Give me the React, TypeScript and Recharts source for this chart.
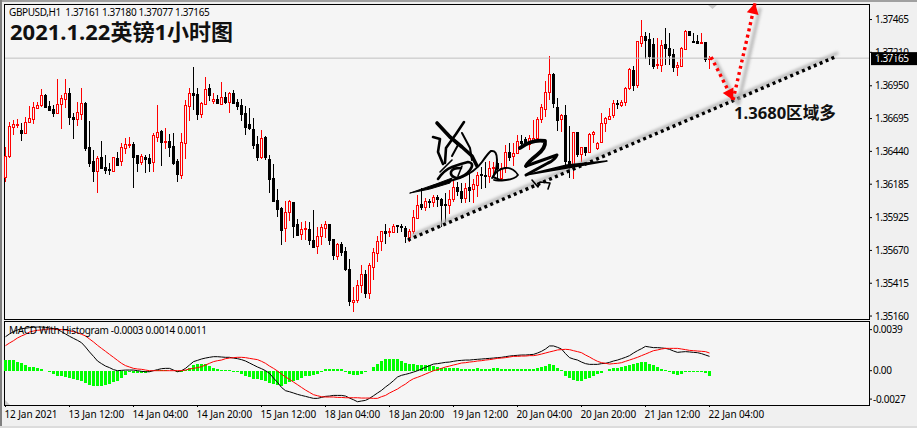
import { Bar, ComposedChart, Line, ReferenceLine, XAxis, YAxis } from "recharts"

const FONT = '"Noto Sans", "Noto Sans CJK SC", sans-serif'
const PLOT_BG = "#f5f5f5"

const opens = [
  1.36239, 1.36407, 1.36627, 1.36648, 1.36607, 1.36581, 1.36671, 1.36689, 1.3678, 1.36798,
  1.36879, 1.36793, 1.36767, 1.36739, 1.36811, 1.3685, 1.36892, 1.3671, 1.36695, 1.36734,
  1.36814, 1.36474, 1.36363, 1.3629, 1.36394, 1.36316, 1.36303, 1.3629, 1.36386, 1.36368,
  1.36464, 1.36487, 1.36498, 1.36412, 1.3636, 1.36399, 1.36389, 1.36355, 1.36555, 1.36599,
  1.36513, 1.36521, 1.36482, 1.36368, 1.36259, 1.36503, 1.36796, 1.36892, 1.36886, 1.36734,
  1.36811, 1.3693, 1.36835, 1.36847, 1.36811, 1.36863, 1.36827, 1.36894, 1.36822, 1.36801,
  1.36736, 1.36653, 1.36612, 1.36498, 1.36397, 1.3655, 1.36381, 1.36234, 1.36062, 1.35998,
  1.35842, 1.35972, 1.36047, 1.35873, 1.35795, 1.35834, 1.35836, 1.35751, 1.35707, 1.35782,
  1.35847, 1.35875, 1.35756, 1.35629, 1.35717, 1.35665, 1.35523, 1.35272, 1.35285, 1.35399,
  1.35487, 1.35336, 1.35544, 1.35653, 1.35741, 1.35818, 1.35811, 1.35811, 1.35865, 1.3586,
  1.35844, 1.35777, 1.35818, 1.35925, 1.36031, 1.36005, 1.36057, 1.36044, 1.36085, 1.3607,
  1.36031, 1.36026, 1.36067, 1.36166, 1.36134, 1.36077, 1.36166, 1.36145, 1.36178, 1.36261,
  1.3626, 1.36251, 1.36309, 1.36348, 1.36231, 1.36313, 1.36438, 1.36406, 1.36425, 1.36518,
  1.36539, 1.36498, 1.36529, 1.36542, 1.3669, 1.3677, 1.36904, 1.37042, 1.36783, 1.3669,
  1.36723, 1.36368, 1.36321, 1.36591, 1.3642, 1.36472, 1.36438, 1.36573, 1.36469, 1.36515,
  1.36658, 1.36692, 1.36723, 1.36814, 1.36801, 1.36826, 1.36935, 1.37073, 1.36959, 1.3728,
  1.37337, 1.37314, 1.37273, 1.37109, 1.37112, 1.37275, 1.37242, 1.37197, 1.37099, 1.37106,
  1.37236, 1.37376, 1.37296, 1.37301, 1.37285, 1.3729, 1.37161,
]

const closes = [
  1.36404, 1.36638, 1.36651, 1.36653, 1.36586, 1.36666, 1.36697, 1.36783, 1.36798, 1.36876,
  1.36788, 1.36765, 1.36741, 1.36806, 1.36853, 1.36892, 1.36705, 1.36695, 1.36744, 1.36814,
  1.36469, 1.36353, 1.36288, 1.36386, 1.36308, 1.36296, 1.36298, 1.36394, 1.36334, 1.36472,
  1.36495, 1.36495, 1.36399, 1.36353, 1.36404, 1.36381, 1.36353, 1.36568, 1.36591, 1.36516,
  1.36518, 1.36477, 1.36347, 1.36265, 1.36511, 1.36798, 1.36892, 1.36881, 1.36728, 1.36814,
  1.36923, 1.36881, 1.36845, 1.36814, 1.3686, 1.36824, 1.36892, 1.36816, 1.36796, 1.36734,
  1.36632, 1.36622, 1.3649, 1.36399, 1.36544, 1.36394, 1.36226, 1.36052, 1.35992, 1.35832,
  1.35967, 1.36052, 1.35863, 1.3579, 1.35834, 1.35842, 1.35751, 1.35694, 1.35782, 1.35849,
  1.35875, 1.35751, 1.35634, 1.35717, 1.3566, 1.35523, 1.35277, 1.35285, 1.35399, 1.35484,
  1.35336, 1.35557, 1.35655, 1.35743, 1.35818, 1.35808, 1.35821, 1.3586, 1.35857, 1.35849,
  1.35782, 1.35818, 1.35927, 1.3602, 1.36005, 1.36054, 1.36046, 1.36083, 1.3607, 1.36023,
  1.36026, 1.3607, 1.3616, 1.36134, 1.36077, 1.36153, 1.3614, 1.36186, 1.36256, 1.36253,
  1.36256, 1.36311, 1.36321, 1.36309, 1.36309, 1.36438, 1.36399, 1.36425, 1.36518, 1.36503,
  1.36513, 1.36542, 1.36542, 1.3669, 1.36783, 1.36899, 1.37042, 1.36819, 1.36684, 1.36723,
  1.36368, 1.36316, 1.36591, 1.3642, 1.36472, 1.36438, 1.36573, 1.36589, 1.36508, 1.36658,
  1.36697, 1.36718, 1.36814, 1.36806, 1.36826, 1.36933, 1.37078, 1.36956, 1.37298, 1.37337,
  1.37306, 1.37184, 1.37106, 1.37117, 1.37267, 1.37246, 1.37189, 1.37099, 1.37112, 1.37246,
  1.37376, 1.37345, 1.3729, 1.37283, 1.3729, 1.37158, 1.37165,
]

const highs = [
  1.36477, 1.36671, 1.36684, 1.36689, 1.36658, 1.3671, 1.36793, 1.36827, 1.36827, 1.36925,
  1.36884, 1.36829, 1.36801, 1.37, 1.36879, 1.37, 1.3693, 1.36736, 1.36827, 1.3693,
  1.36822, 1.36676, 1.36451, 1.36404, 1.36521, 1.36412, 1.36353, 1.36399, 1.36438, 1.36508,
  1.36542, 1.36552, 1.36516, 1.36412, 1.3642, 1.36412, 1.3642, 1.36581, 1.36801, 1.36607,
  1.36619, 1.36575, 1.36581, 1.36381, 1.36581, 1.3684, 1.3693, 1.37094, 1.36936, 1.36827,
  1.37016, 1.36964, 1.36892, 1.36879, 1.36977, 1.36904, 1.36904, 1.36917, 1.36845, 1.36845,
  1.36793, 1.36775, 1.36697, 1.3656, 1.36607, 1.3656, 1.36412, 1.36342, 1.3615, 1.36008,
  1.36055, 1.36062, 1.36047, 1.35915, 1.35888, 1.35901, 1.35893, 1.35984, 1.35849, 1.35875,
  1.35901, 1.35875, 1.35756, 1.3573, 1.35735, 1.35699, 1.35601, 1.35388, 1.3544, 1.35557,
  1.35518, 1.35575, 1.35686, 1.35782, 1.35818, 1.35875, 1.35847, 1.35875, 1.3587, 1.35873,
  1.3586, 1.35836, 1.35984, 1.36101, 1.36153, 1.36075, 1.36067, 1.36101, 1.36098, 1.3608,
  1.36119, 1.3614, 1.36217, 1.36199, 1.36191, 1.36191, 1.36264, 1.36223, 1.36282, 1.36321,
  1.36358, 1.36365, 1.3636, 1.3636, 1.36348, 1.3649, 1.36503, 1.36503, 1.36568, 1.36568,
  1.3655, 1.36568, 1.36684, 1.3671, 1.36809, 1.36987, 1.37182, 1.37047, 1.36853, 1.36731,
  1.36801, 1.36637, 1.36593, 1.36591, 1.36477, 1.36477, 1.36581, 1.36599, 1.36515, 1.36741,
  1.36705, 1.36775, 1.3684, 1.3684, 1.3684, 1.36938, 1.37086, 1.37104, 1.37301, 1.37462,
  1.37371, 1.37358, 1.37319, 1.37324, 1.37306, 1.37397, 1.37358, 1.37234, 1.37137, 1.37254,
  1.37384, 1.37378, 1.37358, 1.37345, 1.37358, 1.3729, 1.3718,
]

const lows = [
  1.36205, 1.36391, 1.36568, 1.36619, 1.36516, 1.36575, 1.36663, 1.36658, 1.36772, 1.36788,
  1.36785, 1.36749, 1.36705, 1.36731, 1.36617, 1.36775, 1.36645, 1.36534, 1.3664, 1.36684,
  1.36443, 1.36321, 1.36202, 1.36114, 1.36301, 1.36265, 1.36257, 1.3629, 1.36327, 1.36329,
  1.3642, 1.36464, 1.36158, 1.36277, 1.36334, 1.36275, 1.36283, 1.36275, 1.36516, 1.36329,
  1.36459, 1.36394, 1.36329, 1.36205, 1.36226, 1.36381, 1.36671, 1.36762, 1.36684, 1.36705,
  1.36801, 1.36832, 1.36809, 1.36806, 1.36801, 1.36814, 1.36741, 1.36809, 1.36762, 1.36671,
  1.36568, 1.36601, 1.36456, 1.36365, 1.36378, 1.36373, 1.36119, 1.36044, 1.35933, 1.35715,
  1.35739, 1.35902, 1.3577, 1.3579, 1.35751, 1.35751, 1.35712, 1.35686, 1.35642, 1.35712,
  1.35772, 1.35712, 1.3559, 1.35595, 1.35627, 1.3551, 1.35233, 1.35194, 1.35259, 1.35336,
  1.35298, 1.35292, 1.3544, 1.35583, 1.3566, 1.3572, 1.35777, 1.35803, 1.35808, 1.35811,
  1.35725, 1.35738, 1.35798, 1.35919, 1.35984, 1.35971, 1.35997, 1.36005, 1.36005, 1.35855,
  1.35893, 1.35953, 1.36049, 1.36088, 1.36036, 1.36036, 1.36049, 1.36036, 1.36088, 1.36153,
  1.36155, 1.36194, 1.36233, 1.36231, 1.36218, 1.3627, 1.3636, 1.36321, 1.3642, 1.36472,
  1.36477, 1.36451, 1.36503, 1.36529, 1.36661, 1.36707, 1.3684, 1.36775, 1.36593, 1.36593,
  1.36334, 1.36231, 1.36231, 1.36394, 1.3636, 1.36404, 1.36425, 1.36508, 1.36456, 1.36508,
  1.36585, 1.36679, 1.36697, 1.36767, 1.36787, 1.36787, 1.36917, 1.36912, 1.36935, 1.37254,
  1.37164, 1.37106, 1.37081, 1.37086, 1.37055, 1.37112, 1.37112, 1.37052, 1.37029, 1.37099,
  1.37236, 1.37345, 1.3728, 1.37275, 1.37273, 1.37137, 1.37077,
]

const macdLine = [
  0.00323, 0.00349, 0.00371, 0.00387, 0.00399, 0.00403, 0.00409, 0.00412, 0.00415, 0.00415,
  0.00412, 0.00406, 0.00399, 0.00393, 0.00371, 0.00349, 0.00327, 0.00307, 0.00288, 0.00266,
  0.00225, 0.00178, 0.00136, 0.00092, 0.00067, 0.00044, 0.00029, 0.0001, 0, 0.00003,
  0.00006, 0.00006, 0.00006, 0, -0.00006, -0.0001, -0.0001, 0, 0.0001, 0.00019,
  0.00022, 0.00022, 0.00006, -0.0001, 0, 0.00022, 0.00054, 0.00086, 0.00098, 0.00111,
  0.0012, 0.00127, 0.00133, 0.00133, 0.0013, 0.00127, 0.00127, 0.0012, 0.00114, 0.00105,
  0.00092, 0.00073, 0.00054, 0.00035, 0.00019, 0, -0.00025, -0.0007, -0.00111, -0.00159,
  -0.0019, -0.002, -0.00212, -0.00225, -0.00235, -0.00244, -0.00254, -0.00263, -0.00263, -0.00254,
  -0.00244, -0.00241, -0.00235, -0.00235, -0.00235, -0.00241, -0.0026, -0.00276, -0.00295, -0.00288,
  -0.00282, -0.00263, -0.00238, -0.00212, -0.00187, -0.00155, -0.00127, -0.00095, -0.0006, -0.00044,
  -0.00035, -0.00025, -0.00013, 0, 0.00016, 0.00032, 0.00048, 0.00063, 0.00067, 0.00073,
  0.00079, 0.00082, 0.00089, 0.00095, 0.00098, 0.00101, 0.00101, 0.00105, 0.00108, 0.00111,
  0.00114, 0.00117, 0.0012, 0.00124, 0.00127, 0.00133, 0.00139, 0.00143, 0.00146, 0.00149,
  0.00149, 0.00152, 0.00155, 0.00168, 0.00184, 0.00206, 0.00235, 0.00235, 0.00222, 0.00206,
  0.00162, 0.00124, 0.00111, 0.00101, 0.00082, 0.00067, 0.0006, 0.0006, 0.0006, 0.00067,
  0.0007, 0.00079, 0.00092, 0.00101, 0.00114, 0.00127, 0.00143, 0.00168, 0.0019, 0.00209,
  0.00231, 0.00225, 0.00219, 0.00219, 0.00216, 0.00212, 0.00203, 0.00187, 0.00174, 0.00178,
  0.00181, 0.00178, 0.00174, 0.00171, 0.00162, 0.00149, 0.00136,
]

const signalLine = [
  0.00238, 0.00263, 0.00285, 0.00311, 0.0033, 0.00346, 0.00368, 0.00377, 0.00384, 0.00387,
  0.00393, 0.00396, 0.00396, 0.00393, 0.0039, 0.00387, 0.0038, 0.00371, 0.00361, 0.00346,
  0.0033, 0.00301, 0.00273, 0.00241, 0.00212, 0.00184, 0.00155, 0.00127, 0.00098, 0.0007,
  0.00048, 0.00035, 0.00022, 0.00016, 0.00013, 0.00006, 0, 0, 0, 0,
  0, 0, 0, 0, 0, 0.00006, 0.00016, 0.00022, 0.00029, 0.00038,
  0.00054, 0.0007, 0.00086, 0.00095, 0.00101, 0.00114, 0.0012, 0.00124, 0.00127, 0.00127,
  0.00124, 0.00117, 0.00111, 0.00105, 0.00089, 0.0007, 0.00044, 0.00022, -0.00003, -0.00032,
  -0.0006, -0.00082, -0.00108, -0.00133, -0.00159, -0.00184, -0.00206, -0.00228, -0.00238, -0.00247,
  -0.0025, -0.0025, -0.0025, -0.00254, -0.00254, -0.00257, -0.00257, -0.00257, -0.00257, -0.0026,
  -0.0026, -0.0026, -0.00263, -0.00263, -0.00247, -0.00235, -0.00212, -0.00193, -0.00174, -0.00149,
  -0.00127, -0.00098, -0.00076, -0.00063, -0.00048, -0.00032, -0.00016, 0, 0.0001, 0.00022,
  0.00035, 0.00044, 0.00054, 0.00063, 0.00073, 0.00076, 0.00082, 0.00086, 0.00092, 0.00095,
  0.00101, 0.00105, 0.00111, 0.00117, 0.0012, 0.00124, 0.0013, 0.00136, 0.00136, 0.00139,
  0.00139, 0.00143, 0.00143, 0.00149, 0.00158, 0.00168, 0.00178, 0.00187, 0.00197, 0.002,
  0.00203, 0.002, 0.0019, 0.00181, 0.00171, 0.00149, 0.0013, 0.00108, 0.00089, 0.00076,
  0.0007, 0.00063, 0.00067, 0.0007, 0.00076, 0.00089, 0.00101, 0.00114, 0.00127, 0.00143,
  0.00158, 0.00174, 0.0019, 0.00197, 0.00206, 0.00212, 0.00212, 0.00212, 0.00212, 0.00206,
  0.002, 0.00193, 0.0019, 0.00187, 0.00184, 0.00181, 0.00168,
]

const histogram = [
  0.00102, 0.00102, 0.00102, 0.00086, 0.0007, 0.00054, 0.00038, 0.00032, 0.00022, 0.00013,
  -0.00003, -0.00013, -0.00035, -0.00051, -0.00051, -0.00057, -0.00073, -0.00082, -0.00086, -0.00095,
  -0.00114, -0.00133, -0.00146, -0.00146, -0.00143, -0.00137, -0.00127, -0.00111, -0.00095, -0.00073,
  -0.00041, -0.00016, -0.00019, -0.00019, -0.00022, -0.00025, -0.00016, -0.00006, 0.00008, 0.00008,
  0.00006, -0.00006, -0.00006, -0.00016, -0.00016, 0.00008, 0.00029, 0.00054, 0.00063, 0.00063,
  0.0006, 0.00044, 0.00022, 0.00013, 0.00008, 0.00008, 0.00006, -0.0001, -0.00016, -0.00029,
  -0.00048, -0.00063, -0.00076, -0.00082, -0.00089, -0.00095, -0.00114, -0.00127, -0.00137, -0.00143,
  -0.0013, -0.00111, -0.00098, -0.00086, -0.0007, -0.00054, -0.00048, -0.00038, -0.00029, -0.00013,
  0.00013, 0.00016, 0.00016, 0.00016, 0.00013, -0.00008, -0.00032, -0.00044, -0.00041, -0.00032,
  -0.00016, -0.00006, 0.00035, 0.0006, 0.00092, 0.00108, 0.00114, 0.00114, 0.00111, 0.00095,
  0.00076, 0.00063, 0.0006, 0.00054, 0.00054, 0.00054, 0.00054, 0.00041, 0.00032, 0.00029,
  0.00029, 0.00022, 0.00022, 0.00022, 0.0002, 0.0002, 0.0002, 0.0002, 0.00022, 0.0002,
  0.0002, 0.0002, 0.00022, 0.00022, 0.0002, 0.0002, 0.0002, 0.0002, 0.0002, 0.0002,
  0.0002, 0.0002, 0.0002, 0.00022, 0.00035, 0.00048, 0.00063, 0.00054, 0.00029, 0.0001,
  -0.00051, -0.00073, -0.00086, -0.00095, -0.00095, -0.00082, -0.00067, -0.00051, -0.00035, -0.00022,
  -0.00006, 0.00013, 0.00022, 0.00029, 0.00038, 0.00048, 0.00057, 0.00063, 0.00076, 0.00082,
  0.00079, 0.00067, 0.00051, 0.00038, 0.00016, 0.00008, -0.0001, -0.00029, -0.00044, -0.00029,
  -0.00013, -0.0001, -0.0001, -0.0001, -0.0001, -0.00022, -0.00048,
]

const priceTicks = [1.37465, 1.3721, 1.3695, 1.36695, 1.3644, 1.36185, 1.35925, 1.3567, 1.35415, 1.3516]
const macdTicks = [0.0039, 0, -0.0027]
const timeLabels = [
  "12 Jan 2021", "13 Jan 12:00", "14 Jan 04:00", "14 Jan 20:00", "15 Jan 12:00", "18 Jan 04:00",
  "18 Jan 20:00", "19 Jan 12:00", "20 Jan 04:00", "20 Jan 20:00", "21 Jan 12:00", "22 Jan 04:00",
]
const timeTicks = timeLabels.map((_, i) => i * 16)

const lastPrice = 1.37165

// drawn by hand on the screenshot: [bar, price]
const trendLine = [[100.6, 1.35751], [207.4, 1.37174]]
const arrowDown = [[176.4, 1.37174], [181.9, 1.3684]]
const arrowUp = [[181.9, 1.3684], [187.4, 1.37594]]

const candles = opens.map((open, idx) => ({
  idx,
  open,
  close: closes[idx],
  high: highs[idx],
  low: lows[idx],
}))

const macdRows = histogram.map((hist, idx) => ({
  idx,
  hist,
  macd: macdLine[idx],
  signal: signalLine[idx],
}))

function Candle(props: any) {
  const { x, y, width, height, payload } = props
  const { open, close, high, low } = payload
  const k = height / (high - low)
  const up = close >= open
  const color = up ? "#ff0000" : "#000000"
  const c = Math.floor(x + width / 2)
  const top = Math.round(y + (high - Math.max(open, close)) * k)
  const bottom = Math.round(y + (high - Math.min(open, close)) * k)
  const h = Math.max(bottom - top, 1)
  return (
    <g shapeRendering="crispEdges">
      <rect x={c} y={Math.round(y)} width={1} height={Math.max(Math.round(height), 1)} fill={color} />
      {up ? (
        <rect x={c - 0.5} y={top + 0.5} width={2} height={Math.max(h, 1)} fill={PLOT_BG} stroke={color} strokeWidth={1} />
      ) : (
        <rect x={c - 1} y={top} width={3} height={h + 1} fill={color} />
      )}
    </g>
  )
}

function dotted(color: string, shadow: [number, number], head: boolean) {
  return (props: any) => {
    const { x1, y1, x2, y2 } = props
    const a = Math.atan2(y2 - y1, x2 - x1)
    const hx = x2 - Math.cos(a) * 11
    const hy = y2 - Math.sin(a) * 11
    const nx = -Math.sin(a) * 6
    const ny = Math.cos(a) * 6
    const points = `${x2},${y2} ${hx + nx},${hy + ny} ${hx - nx},${hy - ny}`
    return (
      <g>
        <line
          x1={x1 + shadow[0]}
          y1={y1 + shadow[1]}
          x2={x2 + shadow[0]}
          y2={y2 + shadow[1]}
          stroke="#b4b4b4"
          strokeWidth={3}
          style={{ filter: "blur(1.8px)" }}
        />
        <line x1={x1} y1={y1} x2={x2} y2={y2} stroke={color} strokeWidth={3.4} strokeDasharray="3 3.4" />
        {head && <polygon points={points} fill={color} />}
      </g>
    )
  }
}

function PriceTag(props: any) {
  const y = props.viewBox.y
  return (
    <g>
      <rect x={871} y={y - 6} width={46} height={13} fill="#000" />
      <text x={875} y={y + 4} fontSize={10} letterSpacing={-0.5} fontFamily={FONT} fill="#fff">
        {lastPrice.toFixed(5)}
      </text>
    </g>
  )
}

function TimeTick(props: any) {
  const { x, y, payload } = props
  return (
    <text x={x - 1} y={y + 9} fontSize={10} letterSpacing={-0.1} fontFamily={FONT} fill="#000">
      {timeLabels[payload.value / 16]}
    </text>
  )
}

const segment = (pts: number[][]) => pts.map(([x, y]) => ({ x, y }))

function Signature() {
  return (
    <svg
      width={917}
      height={428}
      style={{ position: "absolute", left: 0, top: 0, pointerEvents: "none" }}
      fill="none"
      stroke="#000"
      strokeLinecap="round"
      strokeLinejoin="round"
    >
      <g style={{ filter: "blur(0.4px)" }}>
        <path d="M437 123 L450 137 L462 147 L472 156 L477 166" strokeWidth={3.6} />
        <path d="M464 122 L456 134 L446 148 L445 163" strokeWidth={2.6} />
        <path d="M433 137 L440 139 L438 152 L443 164" strokeWidth={2.6} />
        <path d="M447 133 L458 145 L452 156 M462 133 L470 148 L472 160" strokeWidth={2} />
        <path d="M438 179 Q444 170 452 167 T468 162 Q475 163 470 170 T456 178 Q450 176 451 172 T461 168" strokeWidth={2.6} />
        <path d="M440 172 L452 160 M458 176 L462 166" strokeWidth={1.6} />
        <path d="M433 186 L460 178 Q475 172 482 162 T491 151 Q497 150 497 160 T493 177 L500 180" strokeWidth={2} />
        <path d="M410 193 L436 184 L452 178 L450 183 L430 189 Z" fill="#000" strokeWidth={1} />
        <path d="M492 178 Q497 169 505 168 T518 175 Q515 179 506 180 T494 180" strokeWidth={1.8} />
        <path d="M520 148 Q532 139 545 141 Q546 148 537 155 T526 166" strokeWidth={3.8} />
        <path d="M526 166 L557 155 Q555 160 548 163 L526 175" strokeWidth={3} />
        <path d="M526 175 L567 165 L607 161 L567 168 Z" fill="#000" strokeWidth={1.4} />
        <path d="M532 180 L538 187 L540 182 L550 183 L548 189" strokeWidth={1.6} />
      </g>
      <polygon points="708,5 717,5 712.5,9" fill="#c8c8c8" stroke="none" />
      <polygon points="5,400 10,405 5,405" fill="#c8c8c8" stroke="none" />
    </svg>
  )
}

const textBase = { position: "absolute", whiteSpace: "nowrap", fontFamily: FONT, color: "#000" } as const

export default function App() {
  return (
    <div style={{ position: "fixed", left: 0, top: 0, width: 917, height: 428, background: "#f0f0f0", overflow: "hidden" }}>
      <div style={{ position: "absolute", left: 0, top: 0, width: 917, height: 2, background: "#a0a0a0" }} />
      <div style={{ position: "absolute", left: 0, top: 0, width: 2, height: 426, background: "#808080" }} />
      <div style={{ position: "absolute", left: 0, top: 426, width: 917, height: 2, background: "#dcdcdc" }} />
      <div style={{ position: "absolute", left: 4, top: 4, width: 864, height: 314, border: "1px solid #000", background: PLOT_BG }} />
      <div style={{ position: "absolute", left: 4, top: 321, width: 864, height: 83, border: "1px solid #000", background: PLOT_BG }} />

      <div style={{ position: "absolute", left: 0, top: 0 }}>
        <ComposedChart width={917} height={428} data={candles} margin={{ top: 5, right: 0, bottom: 109, left: 5 }}>
          <XAxis dataKey="idx" type="number" domain={[-0.125, 215.875]} hide />
          <YAxis
            orientation="right"
            width={48}
            type="number"
            domain={[1.35137, 1.37578]}
            allowDataOverflow
            ticks={priceTicks}
            interval={0}
            axisLine={false}
            tickSize={3}
            tickMargin={3}
            tickLine={{ stroke: "#000" }}
            tick={{ fontSize: 10, fontFamily: FONT, fill: "#000", letterSpacing: -0.5 }}
            tickFormatter={(v: number) => v.toFixed(5)}
          />
          <ReferenceLine y={lastPrice} stroke="#c0c0c0" label={<PriceTag />} />
          <Bar
            dataKey={(d: any) => [d.low, d.high]}
            barSize={3}
            shape={<Candle />}
            isAnimationActive={false}
          />
          <ReferenceLine segment={segment(trendLine)} ifOverflow="visible" shape={dotted("#000", [3, -4], false)} />
          <ReferenceLine segment={segment(arrowDown)} ifOverflow="visible" shape={dotted("#ff0000", [4, 3], true)} />
          <ReferenceLine segment={segment(arrowUp)} ifOverflow="visible" shape={dotted("#ff0000", [5, 5], true)} />
        </ComposedChart>
      </div>

      <div style={{ position: "absolute", left: 0, top: 321 }}>
        <ComposedChart width={917} height={107} data={macdRows} margin={{ top: 0, right: 0, bottom: 0, left: 5 }}>
          <XAxis
            dataKey="idx"
            type="number"
            domain={[-0.125, 215.875]}
            ticks={timeTicks}
            interval={0}
            height={23}
            axisLine={false}
            tickSize={2}
            tickLine={{ stroke: "#000" }}
            tick={<TimeTick />}
          />
          <YAxis
            orientation="right"
            width={48}
            type="number"
            domain={[-0.00326, 0.00472]}
            allowDataOverflow
            ticks={macdTicks}
            interval={0}
            axisLine={false}
            tickSize={3}
            tickMargin={1}
            tickLine={{ stroke: "#000" }}
            tick={{ fontSize: 10, fontFamily: FONT, fill: "#000", letterSpacing: -0.3 }}
            tickFormatter={(v: number) => (v === 0 ? "0.00" : v.toFixed(4))}
          />
          <Bar dataKey="hist" barSize={3} fill="#00ff00" shapeRendering="crispEdges" isAnimationActive={false} />
          <Line dataKey="macd" type="linear" stroke="#000" strokeWidth={1} dot={false} isAnimationActive={false} />
          <Line dataKey="signal" type="linear" stroke="#ff0000" strokeWidth={1} dot={false} isAnimationActive={false} />
        </ComposedChart>
      </div>

      <Signature />

      <div style={{ ...textBase, left: 9, top: 5, fontSize: 10, lineHeight: "14px", letterSpacing: -0.38 }}>
        GBPUSD,H1&nbsp;&nbsp;1.37161 1.37180 1.37077 1.37165
      </div>
      <div style={{ ...textBase, left: 10, top: 18, fontSize: 22, fontWeight: 700, lineHeight: "26px", color: "#111" }}>
        2021.1.22英镑1小时图
      </div>
      <div style={{ ...textBase, left: 734, top: 101, fontSize: 16.6, fontWeight: 700, lineHeight: "24px", color: "#111" }}>
        1.3680区域多
      </div>
      <div style={{ ...textBase, left: 9, top: 323, fontSize: 10, lineHeight: "15px", letterSpacing: -0.3 }}>
        MACD With Histogram -0.0003 0.0014 0.0011
      </div>
    </div>
  )
}
